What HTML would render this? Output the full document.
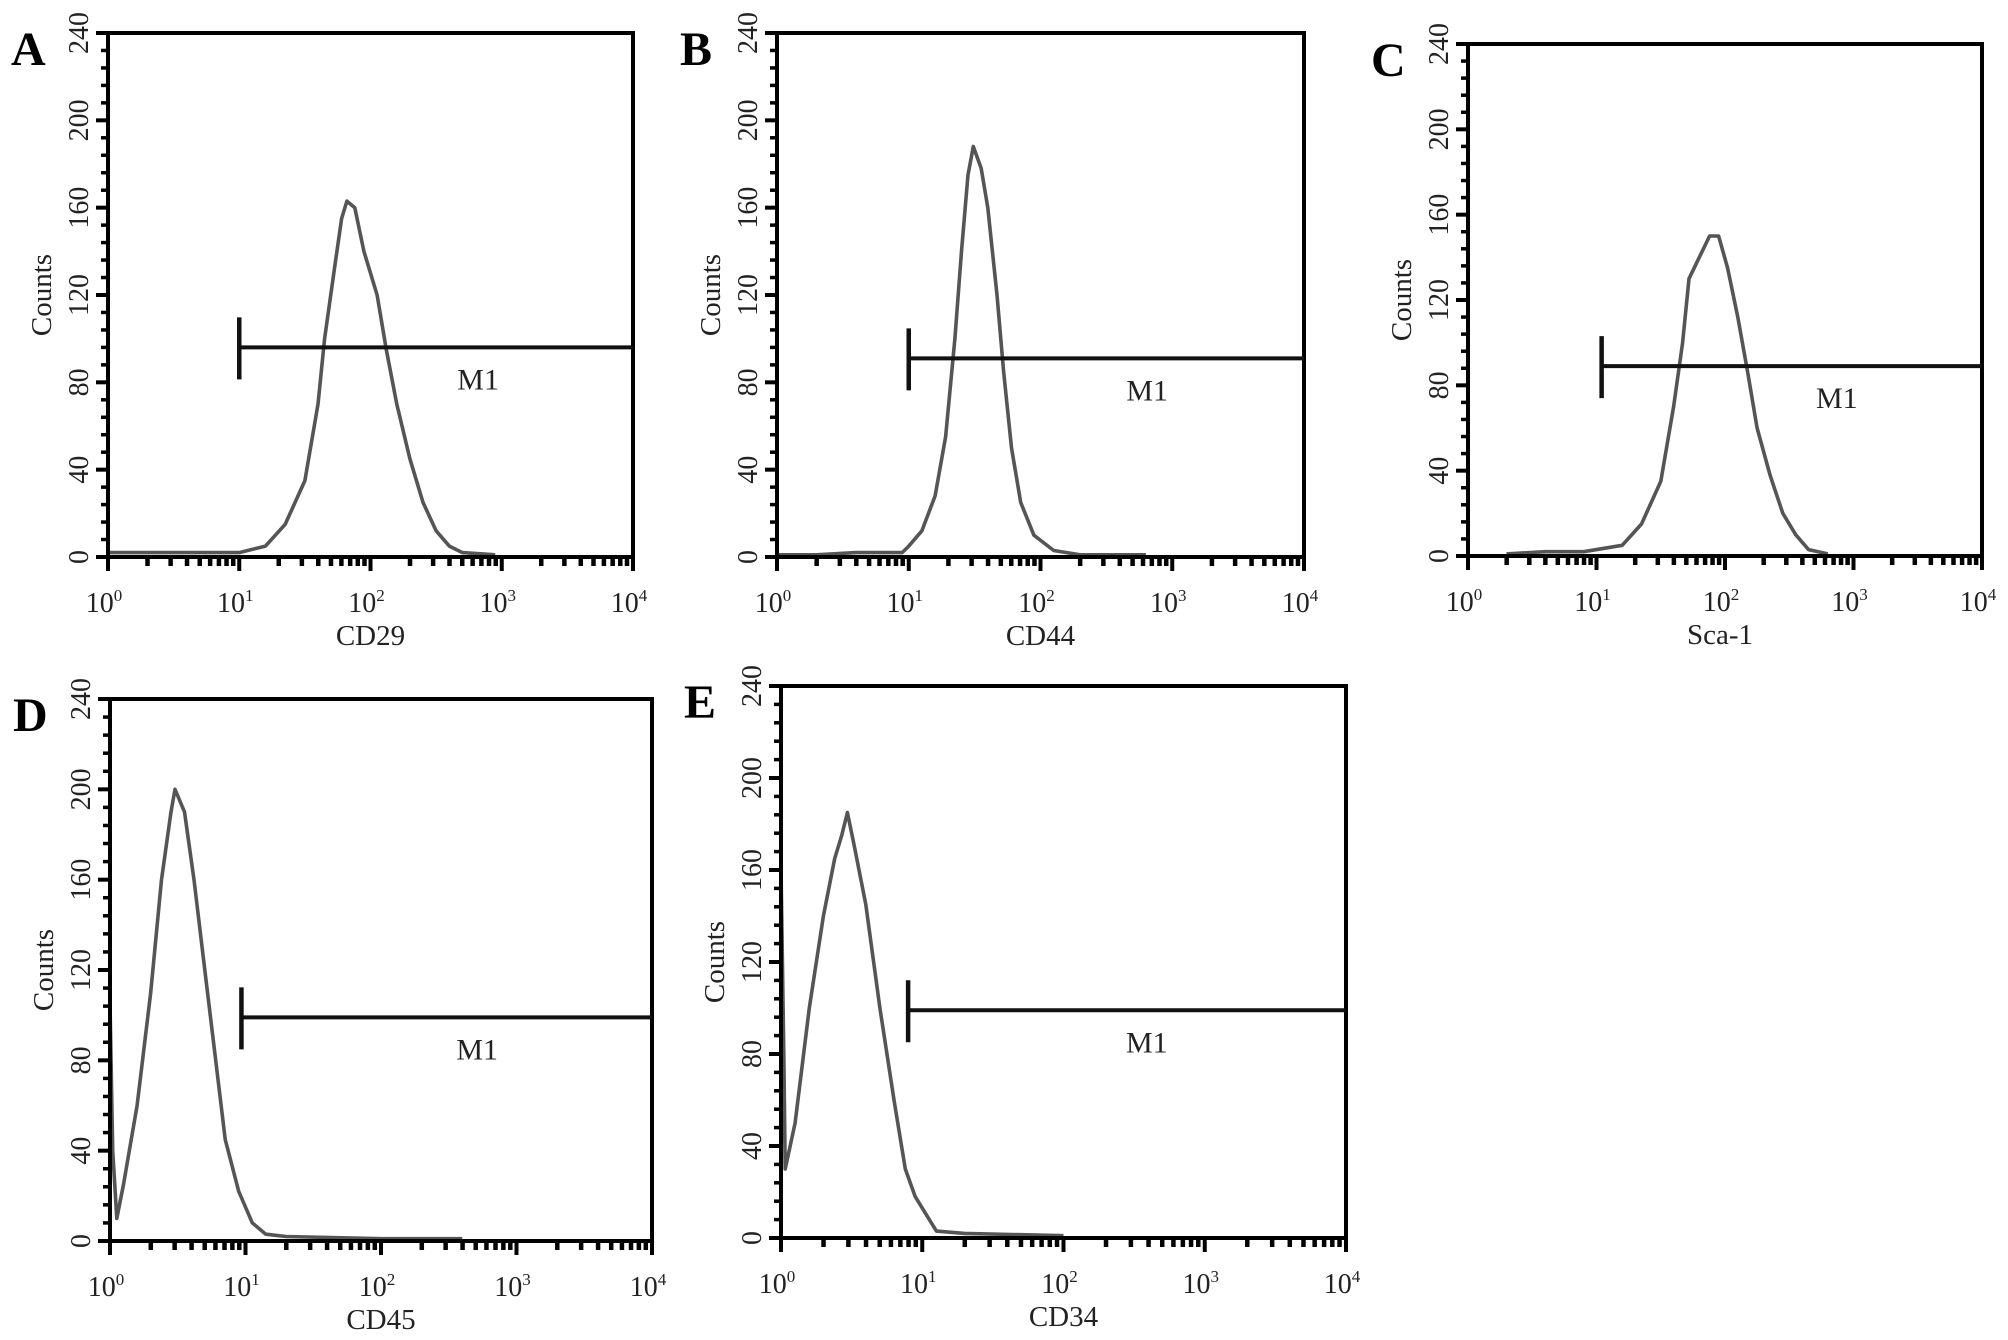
<!DOCTYPE html>
<html><head><meta charset="utf-8"><style>
html,body{margin:0;padding:0;background:#fff;}
svg{display:block;font-family:"Liberation Serif",serif;}
</style></head>
<body>
<svg id="fig" width="2008" height="1340" viewBox="0 0 2008 1340"></svg>
<script>
// Panel A - CD29
const logA = [0,0.2,0.4,0.6,0.8,1.0,1.2,1.35,1.5,1.6,1.65,1.72,1.78,1.82,1.88,1.95,2.05,2.12,2.2,2.3,2.4,2.5,2.6,2.7,2.95];
const cntA = [2,2,2,2,2,2,5,15,35,70,100,130,155,163,160,140,120,95,70,45,25,12,5,2,1];
// Panel B - CD44
const logB = [0,0.3,0.6,0.95,1.0,1.1,1.2,1.28,1.35,1.4,1.45,1.49,1.55,1.6,1.67,1.72,1.78,1.85,1.95,2.1,2.3,2.8];
const cntB = [1,1,2,2,5,12,28,55,100,140,175,188,178,160,120,85,50,25,10,3,1,1];
// Panel C - Sca-1
const logC = [0.3,0.6,0.9,1.2,1.35,1.5,1.6,1.67,1.72,1.8,1.88,1.95,2.02,2.1,2.18,2.25,2.35,2.45,2.55,2.65,2.8];
const cntC = [1,2,2,5,15,35,70,100,130,140,150,150,135,112,85,60,38,20,10,3,1];
// Panel D - CD45
const logD = [0,0.02,0.05,0.1,0.2,0.3,0.38,0.45,0.48,0.55,0.62,0.7,0.78,0.85,0.95,1.05,1.15,1.3,2.0,2.6];
const cntD = [105,40,10,25,60,110,160,190,200,190,160,120,80,45,22,8,3,2,1,1];
// Panel E - CD34
const logE = [0,0.02,0.03,0.1,0.2,0.3,0.38,0.43,0.47,0.52,0.6,0.7,0.8,0.88,0.95,1.05,1.1,1.3,2.0];
const cntE = [160,80,30,50,100,140,165,175,185,170,145,100,60,30,18,8,3,2,1];
const gateLog = [1.0,1.0,1.04,0.97,0.9];
const gateCount = [96,91,89,99,99];
const m1Log = [2.82,2.81,2.87,2.71,2.59];
const yTicks = [0,40,80,120,160,200,240];
const xTickLabels = ["0","1","2","3","4"];
const markers = ["CD29","CD44","Sca-1","CD45","CD34"];
const letters = ["A","B","C","D","E"];

const panels = [
 {L:108,R:633,T:33,B:557,lg:logA,ct:cntA},
 {L:777,R:1304,T:33,B:557,lg:logB,ct:cntB},
 {L:1468,R:1982,T:44,B:556,lg:logC,ct:cntC},
 {L:110,R:652,T:699,B:1241,lg:logD,ct:cntD},
 {L:781,R:1346,T:686,B:1238,lg:logE,ct:cntE}
];
const NS="http://www.w3.org/2000/svg";
const svg=document.getElementById('fig');
function mk(tag,attrs,parent){const e=document.createElementNS(NS,tag);for(const k in attrs)e.setAttribute(k,attrs[k]);parent.appendChild(e);return e;}

panels.forEach((p,i)=>{
 const g=mk('g',{},svg);
 
 
 const xs=v=>p.L+(p.R-p.L)*v/4;
 const ys=c=>p.B-(p.B-p.T)*c/240;
 let d='';
 p.lg.forEach((v,j)=>{const x=xs(v),y=ys(p.ct[j]);d+=(j?'L':'M')+x.toFixed(1)+' '+y.toFixed(1)+' ';});
 const h=mk('path',{d:d,fill:'none',stroke:'#555','stroke-width':3.6,'stroke-linejoin':'round'},g);
 
 
 const fr=mk('rect',{x:p.L,y:p.T,width:p.R-p.L,height:p.B-p.T,fill:'none',stroke:'#000','stroke-width':4},g);
 
 
 for(let c=0;c<=240;c+=8){
  const major=c%40===0;const y=ys(c);
  mk('line',{x1:p.L-(major?12:7),x2:p.L,y1:y,y2:y,stroke:'#000','stroke-width':major?4:3.5},g);
 }
 yTicks.forEach(c=>{
  const y=ys(c);
  const t=mk('text',{x:0,y:0,transform:`translate(${p.L-20},${y}) rotate(-90)`,'text-anchor':'middle','font-size':28,fill:'#222'},g);
  t.textContent=c;
  
  
 });
 for(let dcd=0;dcd<4;dcd++){
  for(let m=1;m<=9;m++){
   const v=dcd+Math.log10(m);const x=xs(v);
   mk('line',{x1:x,x2:x,y1:p.B,y2:p.B+(m===1?14:9),stroke:'#000','stroke-width':m===1?4:4.5},g);
  }
 }
 mk('line',{x1:xs(4),x2:xs(4),y1:p.B,y2:p.B+14,stroke:'#000','stroke-width':4},g);
 xTickLabels.forEach((e,k)=>{
  const t=mk('text',{x:xs(k)-4,y:p.B+55,'text-anchor':'middle','font-size':28,fill:'#222'},g);
  t.textContent='10';
  const s=mk('tspan',{dy:-11,'font-size':17},t);
  s.textContent=e;
  
  
 });
 const xt=mk('text',{x:(p.L+p.R)/2-(i===2?5:0),y:p.B+88,'text-anchor':'middle','font-size':29,fill:'#222'},g);
 xt.textContent=markers[i];
 
 
 const yt=mk('text',{x:0,y:0,transform:`translate(${p.L-57},${ys(120)}) rotate(-90)`,'text-anchor':'middle','font-size':29,fill:'#222'},g);
 yt.textContent='Counts';
 
 
 const lt=mk('text',{x:p.L-97,y:p.T+32,'font-size':48,'font-weight':'bold',fill:'#000'},g);
 lt.textContent=letters[i];
 
 
 const gx=xs(gateLog[i]),gy=ys(gateCount[i]);
 const gl=mk('line',{x1:gx,x2:p.R,y1:gy,y2:gy,stroke:'#111','stroke-width':4},g);
 
 
 mk('line',{x1:gx,x2:gx,y1:gy-30,y2:gy+32,stroke:'#111','stroke-width':4.5},g);
 const ml=mk('text',{x:xs(m1Log[i]),y:ys(gateCount[i])+42,'text-anchor':'middle','font-size':30,fill:'#222'},g);
 ml.textContent='M1';
 
 
});
</script>
</body></html>
